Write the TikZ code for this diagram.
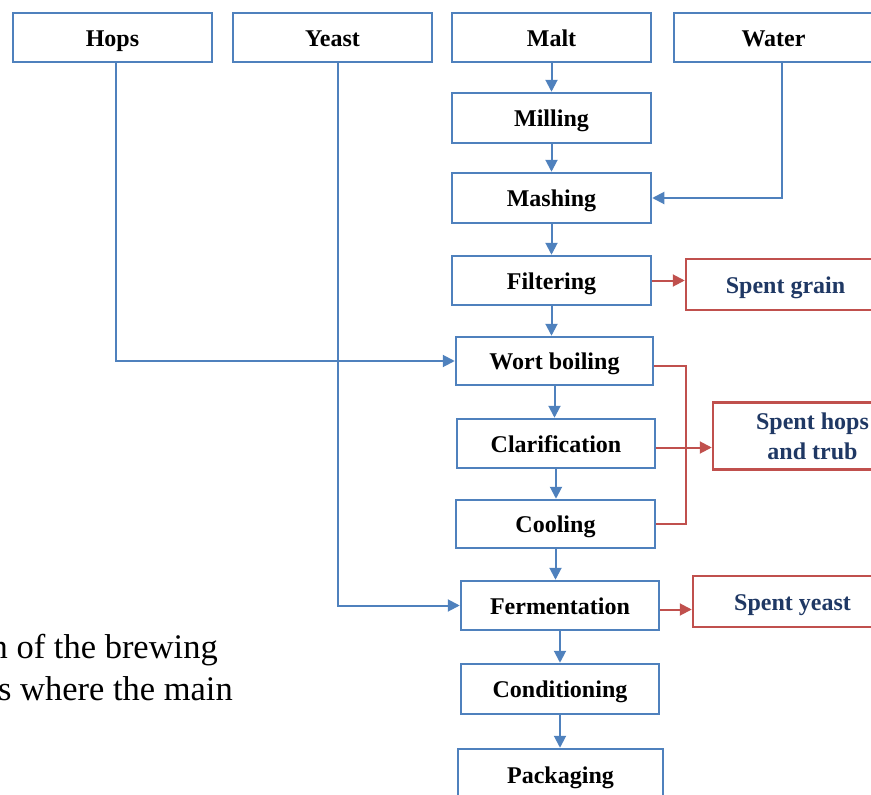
\documentclass[tikz,border=0pt]{standalone}
\usepackage{fontspec}
\setmainfont{Liberation Serif}
\usepackage{tikz}
\usetikzlibrary{arrows.meta, positioning}
\definecolor{azul}{HTML}{4F81BD}
\definecolor{rojo}{HTML}{C0504D}
\definecolor{marino}{HTML}{1F3864}

\begin{document}
\begin{tikzpicture}[x=1pt, y=-1pt,
      caja/.style={line width=2.5pt, fill=white, minimum width=199pt, minimum height=49pt,
        inner sep=0pt, font=\fontsize{24}{28}\selectfont\bfseries},
      linea/.style={text height=17pt, text depth=0pt},
      b/.style={caja, linea, draw=azul},
      r/.style={caja, draw=rojo, text=marino, align=center},
      fl/.style={azul, line width=2pt, -{Triangle[length=12pt, width=12pt]}},
      sl/.style={rojo, line width=2pt, -{Triangle[length=12pt, width=12pt]}},
      pie/.style={anchor=base east, inner sep=0pt, font=\fontsize{34.5}{40}\selectfont}]
    \clip (0,0) rectangle (871,795);
    % entradas
    \node[b] (hops) at (112.5,37.5) {Hops};
    \node[b] (yeast) at (332.5,37.5) {Yeast};
    \node[b] (malt) at (551.5,37.5) {Malt};
    \node[b] (water) at (773.5,37.5) {Water};
    % proceso
    \node[b, minimum height=50pt] (mill) at (551.5,118) {Milling};
    \node[b, minimum height=50pt] (mash) at (551.5,198) {Mashing};
    \node[b] (filt) at (551.5,280.5) {Filtering};
    \node[b, minimum width=197pt, minimum height=48pt] (wort) at (554.5,361) {Wort boiling};
    \node[b, minimum width=198pt] (clar) at (556,443.5) {Clarification};
    \node[b, minimum width=199pt, minimum height=48pt] (cool) at (555.5,524) {Cooling};
    \node[b, minimum width=198pt] (ferm) at (560,605.5) {Fermentation};
    \node[b, minimum width=198pt, minimum height=50pt] (cond) at (560,689) {Conditioning};
    \node[b, minimum width=205pt, minimum height=52pt] (pack) at (560.5,775) {Packaging};
    % residuos
    \node[r, linea, minimum height=51pt] (grain) at (785.5,284.5) {Spent grain};
    \node[r, minimum height=67pt] (trub) at (812.5,436) {Spent hops\\[2pt]and trub};
    \node[r, linea, minimum height=51pt] (syeast) at (792.5,601.5) {Spent yeast};
    \coordinate (k) at (686,0);
    % flujo principal
    \draw[fl] (malt) -- (mill);
    \draw[fl] (mill) -- (mash);
    \draw[fl] (mash) -- (filt);
    \draw[fl] (filt) -- (filt |- wort.north);
    \draw[fl] (wort) -- (wort |- clar.north);
    \draw[fl] (clar) -- (clar |- cool.north);
    \draw[fl] (cool) -- (cool |- ferm.north);
    \draw[fl] (ferm) -- (cond);
    \draw[fl] (cond) -- (cond |- pack.north);
    \draw[fl] ([xshift=8pt]water.south) |- (mash.east);
    \draw[fl] ([xshift=3pt]hops.south) |- (wort.west);
    \draw[fl] ([xshift=5pt]yeast.south) |- (ferm.west);
    % salidas
    \draw[sl] (filt.east) -- (filt.east -| grain.west);
    \draw[rojo, line width=2pt] ([yshift=-5pt]wort.east) -- ([yshift=-5pt]wort.east -| k) |- (cool.east);
    \draw[sl] ([yshift=-4pt]clar.east) -- ([yshift=-4pt]clar.east -| trub.west);
    \draw[sl] ([yshift=-4pt]ferm.east) -- ([yshift=-4pt]ferm.east -| syeast.west);
    % texto del pie
    \node[pie] (c1) at (218,658) {n of the brewing};
    \node[pie] (c2) at (233,700) {s where the main};
  \end{tikzpicture}
\end{document}
